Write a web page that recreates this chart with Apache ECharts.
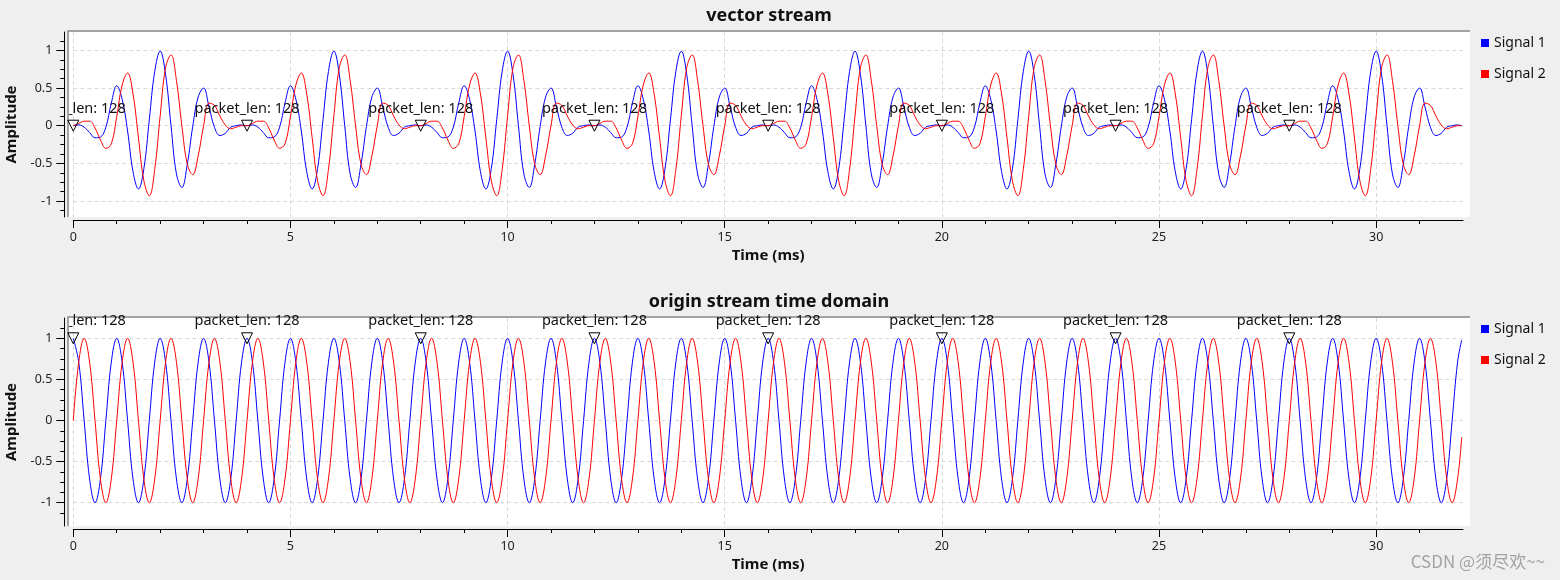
<!DOCTYPE html>
<html>
<head>
<meta charset="utf-8">
<script src="https://cdn.jsdelivr.net/npm/echarts@6/dist/echarts.min.js"></script>
<style>
  html, body { margin: 0; padding: 0; background: #efefef; }
  #chart { width: 1560px; height: 580px; }
</style>
</head>
<body>
<div id="chart"></div>
<script>
// values, one point every 1/8 ms
const readStep = 0.125
const lastTime = 31.97
const tagTimes = [0, 4, 8, 12, 16, 20, 24, 28]
const tagLabel = 'packet_len: 128'

// vector stream: the same 128-sample packet (4 ms) is sent 8 times
const packetSignal1 = [0.00, 0.01, -0.02, -0.09, -0.16, -0.15, -0.02, 0.30, 0.53, 0.35, -0.07, -0.61,
  -0.84, -0.57, 0.08, 0.72, 0.99, 0.68, 0.00, -0.64, -0.82, -0.51, -0.01, 0.38,
  0.50, 0.25, -0.02, -0.13, -0.10, -0.02, 0.00, 0.01]
const packetSignal2 = [0.00, 0.03, 0.06, 0.06, -0.03, -0.19, -0.30, -0.24, 0.12, 0.54, 0.70, 0.42,
  -0.16, -0.73, -0.93, -0.58, 0.13, 0.77, 0.94, 0.60, 0.00, -0.51, -0.65, -0.40,
  0.00, 0.30, 0.27, 0.13, 0.01, -0.04, -0.02, 0.00]
const packetCount = 8
const vectorLast = [0.00, 0.00]

// origin stream: 1 ms cycle, 32 cycles
const cycleSignal1 = [1, 0.71, 0, -0.71, -1, -0.71, 0, 0.71]
const cycleSignal2 = [0, 0.71, 1, 0.71, 0, -0.71, -1, -0.71]
const cycleCount = 32
const originLast = [0.98, -0.20]

const xTicks = [0, 5, 10, 15, 20, 25, 30]
const xMinorTicks = [1, 2, 3, 4, 6, 7, 8, 9, 11, 12, 13, 14, 16, 17, 18, 19, 21, 22, 23, 24, 26, 27, 28, 29, 31]
const yTicks = [-1, -0.5, 0, 0.5, 1]
const yMinorTicks = [-1.125, -0.875, -0.75, -0.625, -0.375, -0.25, -0.125, 0.125, 0.25, 0.375, 0.625, 0.75, 0.875, 1.125]

function trace(unit, count, last) {
  const out = []
  for (let i = 0; i < count; i++) {
    unit.forEach((v, j) => out.push([(i * unit.length + j) * readStep, v]))
  }
  out.push([lastTime, last])
  return out
}

const vector1 = trace(packetSignal1, packetCount, vectorLast[0])
const vector2 = trace(packetSignal2, packetCount, vectorLast[1])
const origin1 = trace(cycleSignal1, cycleCount, originLast[0])
const origin2 = trace(cycleSignal2, cycleCount, originLast[1])

const font = '"Noto Sans", "DejaVu Sans", sans-serif'
const canvasLeft = 69
const canvasRight = 1470

function xAxes(gridIndex) {
  return [{
    type: 'value', gridIndex, min: 0, max: 32, position: 'bottom', offset: 3,
    name: 'Time (ms)', nameLocation: 'middle', nameGap: 28,
    nameTextStyle: { fontFamily: font, fontWeight: 'bold', fontSize: 15, color: '#111' },
    axisLine: { show: true, onZero: false, lineStyle: { color: '#000', width: 1 } },
    axisTick: { show: true, length: 8, customValues: xTicks, lineStyle: { color: '#000' } },
    axisLabel: { customValues: xTicks, margin: 11, fontFamily: font, fontSize: 12.5, color: '#222' },
    splitLine: { show: true, lineStyle: { color: '#d9d9d9', type: [4, 3] } }
  }, {
    type: 'value', gridIndex, min: 0, max: 32, position: 'bottom', offset: 3,
    axisLine: { show: false, onZero: false },
    axisTick: { show: true, length: 4, customValues: xMinorTicks, lineStyle: { color: '#000' } },
    axisLabel: { show: false },
    splitLine: { show: false }
  }]
}

function yAxes(gridIndex, min, max) {
  return [{
    type: 'value', gridIndex, min, max, position: 'left', offset: 9,
    name: 'Amplitude', nameLocation: 'middle', nameGap: 44,
    nameTextStyle: { fontFamily: font, fontWeight: 'bold', fontSize: 15, color: '#111' },
    axisLine: { show: true, onZero: false, lineStyle: { color: '#000', width: 1 } },
    axisTick: { show: true, length: 8, customValues: yTicks, lineStyle: { color: '#000' } },
    axisLabel: { customValues: yTicks, margin: 12, fontFamily: font, fontSize: 12.5, color: '#222' },
    splitLine: { show: true, lineStyle: { color: '#d9d9d9', type: [4, 3] } }
  }, {
    type: 'value', gridIndex, min, max, position: 'left', offset: 9,
    axisLine: { show: false, onZero: false },
    axisTick: { show: true, length: 4, customValues: yMinorTicks, lineStyle: { color: '#000' } },
    axisLabel: { show: false },
    splitLine: { show: false }
  }]
}

function lineSeries(name, color, axisIndex, data) {
  return {
    name, type: 'line', xAxisIndex: axisIndex, yAxisIndex: axisIndex, data,
    color, showSymbol: false, smooth: 0.4, silent: true,
    lineStyle: { color, width: 1 }
  }
}

function tagSeries(axisIndex, signal1) {
  return {
    type: 'custom', xAxisIndex: axisIndex, yAxisIndex: axisIndex, z: 5, silent: true,
    data: tagTimes.map(t => [t, signal1[Math.round(t / readStep)][1]]),
    renderItem: (params, api) => {
      const p = api.coord([api.value(0), api.value(1)])
      return {
        type: 'group',
        children: [{
          type: 'polygon',
          shape: { points: [[p[0] - 5.5, p[1] - 5.5], [p[0] + 5.5, p[1] - 5.5], [p[0], p[1] + 5.5]] },
          style: { fill: 'none', stroke: '#000', lineWidth: 1 }
        }, {
          type: 'text',
          style: {
            x: p[0], y: p[1] - 17, text: tagLabel, align: 'center', verticalAlign: 'middle',
            font: '14.5px ' + font, fill: '#111'
          },
          clipPath: { type: 'rect', shape: { x: canvasLeft, y: 0, width: canvasRight - canvasLeft, height: 580 } }
        }]
      }
    }
  }
}

function canvasRects(top, height) {
  return [
    { type: 'rect', z: -10, shape: { x: canvasLeft, y: top, width: canvasRight - canvasLeft, height }, style: { fill: '#fff' } },
    { type: 'rect', z: -9, shape: { x: canvasLeft - 2, y: top - 2, width: canvasRight - canvasLeft + 2, height: 2 }, style: { fill: '#a3a3a3' } },
    { type: 'rect', z: -9, shape: { x: canvasLeft - 2, y: top - 2, width: 2, height: height + 2 }, style: { fill: '#a3a3a3' } }
  ]
}

const chart = echarts.init(document.getElementById('chart'))

const options = {
  backgroundColor: '#efefef',
  animation: false,
  title: [{
    text: 'vector stream', left: 769, top: 7, textAlign: 'center', padding: 0,
    textStyle: { fontFamily: font, fontWeight: 'bold', fontSize: 18, color: '#111' }
  }, {
    text: 'origin stream time domain', left: 769, top: 293, textAlign: 'center', padding: 0,
    textStyle: { fontFamily: font, fontWeight: 'bold', fontSize: 18, color: '#111' }
  }],
  legend: [{
    orient: 'vertical', left: 1481, top: 35, padding: 0, icon: 'rect', itemWidth: 8, itemHeight: 8, itemGap: 15,
    textStyle: { fontFamily: font, fontSize: 14, color: '#111', lineHeight: 16 },
    data: ['Signal 1', 'Signal 2']
  }, {
    orient: 'vertical', left: 1481, top: 321, padding: 0, icon: 'rect', itemWidth: 8, itemHeight: 8, itemGap: 15,
    textStyle: { fontFamily: font, fontSize: 14, color: '#111', lineHeight: 16 },
    data: ['Signal 1', 'Signal 2']
  }],
  grid: [
    { left: 73.3, right: 97, top: 32, height: 185, outerBoundsMode: 'none' },
    { left: 73.3, right: 97, top: 318, height: 208, outerBoundsMode: 'none' }
  ],
  xAxis: [...xAxes(0), ...xAxes(1)],
  yAxis: [...yAxes(0, -1.212, 1.244), ...yAxes(1, -1.283, 1.247)],
  graphic: [
    ...canvasRects(32, 185),
    ...canvasRects(318, 208),
    {
      type: 'text', right: 15, top: 553,
      style: { text: 'CSDN @须尽欢~~', font: '17px "Noto Sans CJK SC", sans-serif', fill: '#a3a3a3' }
    }
  ],
  series: [
    lineSeries('Signal 1', '#0000ff', 0, vector1),
    lineSeries('Signal 2', '#ff0000', 0, vector2),
    tagSeries(0, vector1),
    lineSeries('Signal 1', '#0000ff', 2, origin1),
    lineSeries('Signal 2', '#ff0000', 2, origin2),
    tagSeries(2, origin1)
  ]
}

chart.setOption(options)
</script>
</body>
</html>
